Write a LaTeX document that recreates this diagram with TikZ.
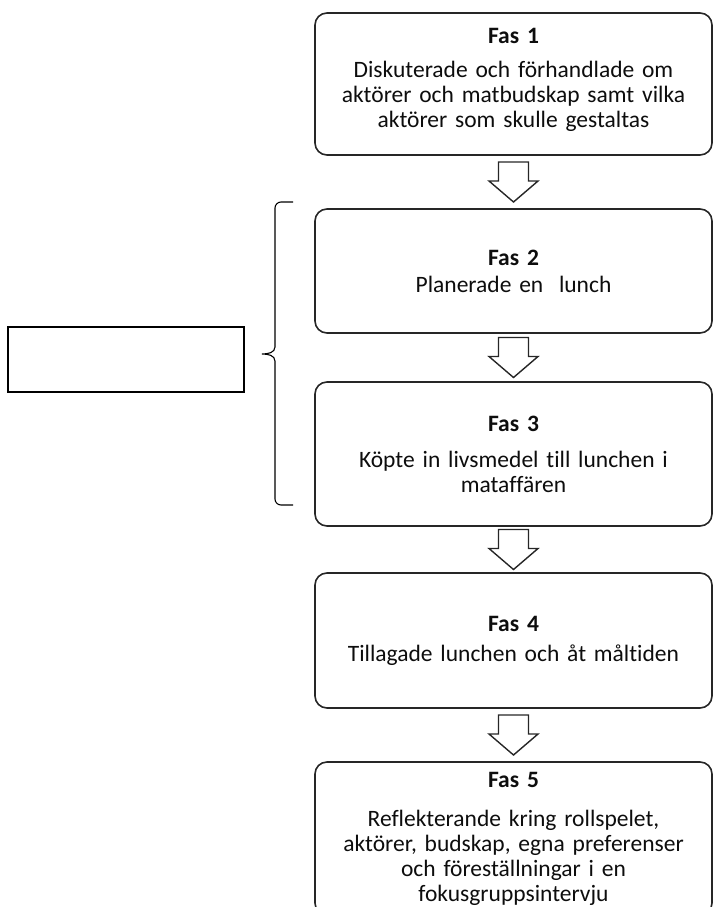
\documentclass[tikz,border=0pt]{standalone}
\usepackage{fontspec}
\setmainfont{Carlito}[Ligatures=NoCommon]
\usetikzlibrary{calc}

% hollow block arrow half way between two phase boxes
\newcommand{\fasarrow}[2]{%
	\coordinate (mid) at ($(#1.south)!0.5!(#2.north)$);
	\draw[arrowline] ($(mid)+(-15,-20)$) -- ++(30,0) -- ++(0,19) -- ++(9.5,0)
		-- ($(mid)+(0,20)$) -- ($(mid)+(-24.5,-1)$) -- ++(9.5,0) -- cycle;
}

\begin{document}
\begin{tikzpicture}[
		x=1pt, y=-1pt,
		every node/.style={
				font=\fontsize{23.5}{25}\selectfont,
			},
		fasbox/.style={draw=black!85, line width=1.6pt, rounded corners=12pt,
				minimum width=397pt, text width=385pt, align=center, inner sep=0pt, text=black!95},
		arrowline/.style={draw=black!85, line width=1.4pt, line join=miter},
	]
	\useasboundingbox (0,0) rectangle (713,907);
	% the five phases
	\node[fasbox, minimum height=142pt] (fas1) at (513.5,84) {\textbf{Fas 1}\\[9pt]Diskuterade och förhandlade om\\aktörer och matbudskap samt vilka\\aktörer som skulle gestaltas\\[-12pt]\mbox{}};
	\node[fasbox, minimum height=124pt] (fas2) at (513.5,271) {\textbf{Fas 2}\\[2pt]Planerade en~ lunch};
	\node[fasbox, minimum height=144pt] (fas3) at (513.5,454) {\textbf{Fas 3}\\[11pt]Köpte in livsmedel till lunchen i\\mataffären};
	\node[fasbox, minimum height=135pt] (fas4) at (513.5,640.5) {\textbf{Fas 4}\\[5pt]Tillagade lunchen och åt måltiden};
	\node[fasbox, minimum height=153pt] (fas5) at (513.5,838.5) {\textbf{Fas 5}\\[14pt]Reflekterande kring rollspelet,\\aktörer, budskap, egna preferenser\\och föreställningar i en\\fokusgruppsintervju};
	% hollow arrows between the phases
	\fasarrow{fas1}{fas2}
	\fasarrow{fas2}{fas3}
	\fasarrow{fas3}{fas4}
	\fasarrow{fas4}{fas5}
	% empty box and brace on the left
	\node[draw, line width=1.3pt, minimum width=236pt, minimum height=65pt, inner sep=0pt] (side) at (126,359.5) {};
	\coordinate (tip) at (262,354);
	\draw[line width=1.1pt] (293,202) -- (281,202) to[out=180,in=90] (275,208) -- (275,347)
		to[out=-90,in=0] (tip) to[out=0,in=90] (275,361) -- (275,499)
		to[out=-90,in=180] (281,505) -- (293,505);
\end{tikzpicture}
\end{document}
